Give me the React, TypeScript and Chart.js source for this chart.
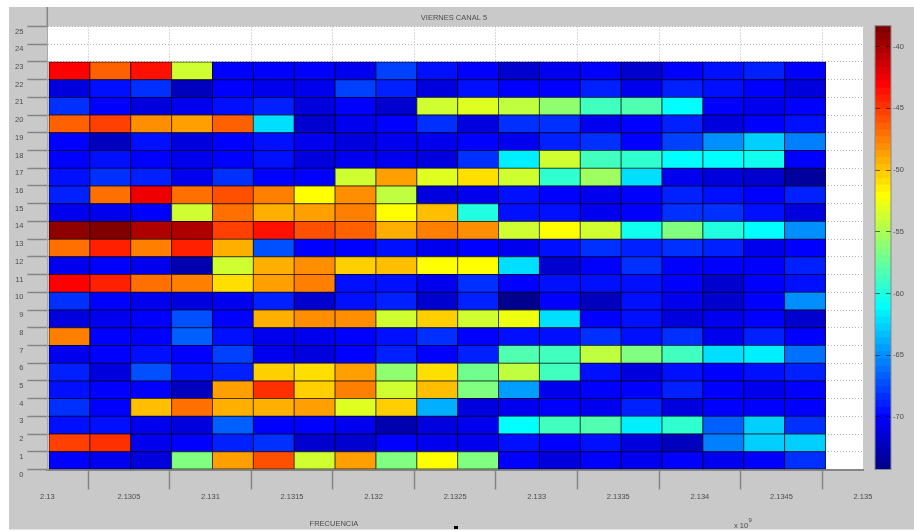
import React, { useEffect, useRef } from "react";
import { Chart, registerables } from "chart.js";

Chart.register(...registerables);

const frequencies = [2.1301357, 2.1303862, 2.1306367, 2.1308872, 2.1311377, 2.1313882, 2.1316387, 2.1318892, 2.1321397, 2.1323902, 2.1326407, 2.1328912, 2.1331417, 2.1333922, 2.1336427, 2.1338932, 2.1341437, 2.1343942, 2.1346447];

const row23 = [-42.8, -46.2, -43.9, -54, -70, -70, -69.8, -70.5, -68, -69.3, -69.8, -71.7, -70.5, -69.8, -71.7, -69.8, -69.3, -68.8, -69.8];
const row22 = [-71.3, -69.3, -68.5, -72.4, -69.8, -70.7, -70.8, -68, -68.8, -71.3, -69.3, -70, -70, -68.8, -70.8, -68.8, -69.5, -70, -71.3];
const row21 = [-68.5, -69.8, -71.3, -70.5, -69.3, -68.8, -71, -70.3, -71.5, -53.5, -53, -54.5, -55.8, -58.8, -58.3, -61.3, -70, -70.7, -70];
const row20 = [-46.2, -45.2, -48.3, -48.8, -46.2, -62.3, -72, -70.7, -69.8, -68.5, -71.1, -68.5, -68.5, -70.5, -69.8, -68.8, -71, -70, -69.3];
const row19 = [-69.8, -72.2, -69.3, -71.3, -69.8, -69.3, -70.7, -71, -70.7, -70.7, -69.8, -70.5, -68.8, -68.5, -69.8, -68, -64.8, -63, -65.3];
const row18 = [-69.8, -69.3, -70.3, -70.8, -69.8, -69.3, -71, -70.8, -70.8, -71.3, -68.5, -61.8, -53.5, -58.8, -59.3, -61.3, -61.3, -60.3, -70];
const row17 = [-69.3, -68.5, -68.8, -70.5, -68.5, -70, -69.8, -53.5, -48.8, -53, -50.8, -54, -59.3, -55.2, -62.3, -70.8, -71.3, -71.9, -73.4];
const row16 = [-68.8, -46.8, -42.3, -46.8, -45.7, -47.3, -51.8, -48.3, -54.5, -71.1, -70.5, -69.3, -70.3, -70.7, -69.8, -68.8, -69.3, -69.8, -68.8];
const row15 = [-70.8, -70.5, -69.8, -54, -47, -49.3, -48.8, -47.8, -52.3, -49.6, -59.8, -69.3, -69.3, -70.8, -69.8, -68.5, -68.5, -69.3, -71];
const row14 = [-39, -38.4, -40.4, -40.4, -45.2, -43.9, -45.7, -46.2, -49.3, -47.3, -48.3, -54, -52.3, -53.5, -60.3, -56.3, -59.8, -61.3, -64.8];
const row13 = [-46.8, -44.2, -47.3, -44.2, -49, -67.5, -69.8, -70.3, -69.3, -70.8, -70.3, -70.8, -69.3, -68.5, -68.8, -68.5, -68.8, -70.5, -69.8];
const row12 = [-70.5, -70.3, -70.8, -73, -53.5, -49.3, -48.3, -50.2, -49.6, -52.3, -52.3, -62.3, -72, -70, -68.5, -70.3, -70, -70.3, -68.8];
const row11 = [-43.3, -44.2, -46.8, -47.3, -51, -48.6, -47.8, -69.3, -69.3, -70.5, -68.5, -70, -69.3, -69.3, -69.3, -69.8, -71.5, -70, -69.3];
const row10 = [-68.5, -69.8, -70.8, -71, -70.8, -68.8, -72, -69.3, -68.8, -72, -68.8, -74.2, -69.8, -72.4, -69.3, -70.5, -71.5, -70, -64.8];
const row9 = [-71.3, -70.5, -69.8, -67.5, -69.8, -49, -48.3, -48.3, -54, -50.2, -53.8, -52.6, -62, -70, -69.3, -71, -70.5, -70.3, -71.7];
const row8 = [-47.3, -70, -69.8, -66.5, -69.3, -70.5, -70.5, -70, -69.3, -68.5, -70, -69.3, -69.3, -68.5, -69.3, -68.5, -70.5, -68.8, -70];
const row7 = [-70.5, -70, -69.3, -69.8, -68, -70.7, -71, -70.3, -68.8, -69.8, -68.8, -58.3, -58.8, -54.5, -56.8, -58.8, -62.3, -61.8, -66];
const row6 = [-68.8, -71.3, -67.5, -69.3, -68.8, -50.2, -51.2, -48.8, -55.8, -50.9, -57.3, -54.5, -58.8, -69.3, -71.1, -69.3, -70, -69.3, -68.8];
const row5 = [-69.3, -70, -69.8, -72.4, -48.6, -44.5, -50.2, -47.3, -54, -49.6, -56.3, -64.3, -70.8, -70, -70, -68.8, -70, -70.5, -69.8];
const row4 = [-68.5, -69.8, -49.6, -46.8, -49, -49, -48.6, -53, -50.2, -63.7, -71.3, -70.8, -70, -70.8, -68.8, -71, -70.3, -70, -70];
const row3 = [-69.3, -69.3, -70.8, -71.3, -66.8, -70, -69.8, -70.7, -73, -71.1, -70.8, -60.8, -58.8, -58.3, -61.8, -59.3, -66.5, -63, -68.5];
const row2 = [-45.2, -44.5, -70.8, -69.8, -68.8, -68.5, -71.7, -71.7, -70.3, -70.8, -70.5, -69.3, -69.8, -69.3, -71.1, -72.2, -65.3, -63, -63];
const row1 = [-70.3, -70.7, -71.1, -56.3, -48.6, -45.7, -54, -48.6, -56.3, -51.8, -56.3, -69.8, -71.1, -70, -70.8, -70.3, -70.7, -69.8, -68.5];

const rows = [row1, row2, row3, row4, row5, row6, row7, row8, row9, row10, row11, row12, row13, row14, row15, row16, row17, row18, row19, row20, row21, row22, row23];

const colorMin = -74.26;
const colorMax = -38.3;
const colorLevels = 64;
const colorTicks = [-70, -65, -60, -55, -50, -45, -40];

const titleText = "VIERNES CANAL 5";
const xAxisLabel = "FRECUENCIA";
const exponentText = "x 10";
const exponentPower = "9";
const tickFont = { family: "'Liberation Sans'", size: 7.5 };
const textColor = "#4c4c4c";
const axisGrey = "#858585";
const figureGrey = "#c9c9c9";

const clamp = (v: number) => Math.max(0, Math.min(1, v));
const jetLevel = (i: number): number[] => {
  const t = (i + 1) / colorLevels;
  return [
    clamp(Math.min(4 * t - 1.5, -4 * t + 4.5)),
    clamp(Math.min(4 * t - 0.5, -4 * t + 3.5)),
    clamp(Math.min(4 * t + 0.5, -4 * t + 2.5)),
  ].map((c) => Math.round(c * 255));
};
const levelOf = (v: number) =>
  Math.max(0, Math.min(colorLevels - 1, Math.floor(((v - colorMin) / (colorMax - colorMin)) * colorLevels)));
const fill = (v: number) => `rgb(${jetLevel(levelOf(v)).join(",")})`;
const edge = (v: number) => `rgb(${jetLevel(levelOf(v)).map((c) => Math.round(c * 0.3)).join(",")})`;

const heatDatasets = rows.map((values, r) => ({
  label: `Fila ${r + 1}`,
  data: values.map((_, c) => ({ x: frequencies[c], y: [r, r + 1] })),
  backgroundColor: values.map(fill),
  borderColor: values.map(edge),
  borderWidth: 1,
  borderSkipped: false,
  inflateAmount: 0.5,
  grouped: false,
  barPercentage: 1,
  categoryPercentage: 1,
}));

const figurePlugin = {
  id: "figure",
  beforeDraw(chart: any) {
    const { ctx, chartArea: a } = chart;
    ctx.save();
    ctx.fillStyle = figureGrey;
    ctx.fillRect(9, 7, 905, 522.5);
    ctx.fillStyle = "#ffffff";
    ctx.fillRect(a.left, a.top, a.right - a.left, a.bottom - a.top);
    ctx.restore();
  },
  afterDraw(chart: any) {
    const { ctx, chartArea: a } = chart;
    ctx.save();
    ctx.strokeStyle = axisGrey;
    ctx.lineWidth = 1.5;
    ctx.beginPath();
    ctx.moveTo(a.left, 7);
    ctx.lineTo(a.left, a.top);
    ctx.stroke();
    ctx.fillStyle = textColor;
    ctx.font = "7.5px 'Liberation Sans'";
    ctx.textBaseline = "middle";
    ctx.textAlign = "center";
    ctx.fillText(titleText, 454, 18);
    ctx.fillText(xAxisLabel, 334, 524);
    ctx.textAlign = "left";
    ctx.fillText(exponentText, 734, 526);
    ctx.font = "6px 'Liberation Sans'";
    ctx.fillText(exponentPower, 748.5, 520);
    ctx.fillStyle = "#000000";
    ctx.fillRect(454, 526, 4, 3);
    ctx.restore();
  },
};

const barFramePlugin = {
  id: "barFrame",
  afterDraw(chart: any) {
    const { ctx, chartArea: a } = chart;
    ctx.save();
    ctx.strokeStyle = "#8a8a8a";
    ctx.lineWidth = 1;
    ctx.strokeRect(a.left, a.top, a.right - a.left, a.bottom - a.top);
    ctx.restore();
  },
};

export default function App() {
  const mainRef = useRef<HTMLCanvasElement>(null);
  const barRef = useRef<HTMLCanvasElement>(null);

  useEffect(() => {
    const main = new Chart(mainRef.current!, {
      type: "bar",
      data: { datasets: heatDatasets as any },
      plugins: [figurePlugin],
      options: {
        animation: false,
        responsive: false,
        layout: { padding: { left: 0, right: 51, top: 26.5, bottom: 0 } },
        plugins: { legend: { display: false }, title: { display: false }, tooltip: { enabled: false } },
        scales: {
          x: {
            type: "linear",
            position: "bottom",
            offset: false,
            min: 2.13,
            max: 2.135,
            afterFit: (s: any) => { s.height = 61.5; },
            afterBuildTicks: (s: any) => {
              s.ticks = Array.from({ length: 11 }, (_, i) => ({ value: 2.13 + i * 0.0005 }));
            },
            ticks: {
              autoSkip: false,
              maxRotation: 0,
              padding: 3,
              color: textColor,
              font: tickFont,
              callback: (v: any) => String(Number(Number(v).toFixed(4))),
            },
            grid: { color: "#b4b4b4", lineWidth: 1, tickColor: axisGrey, tickLength: 20, tickWidth: 1.5, tickBorderDash: [] },
            border: { display: true, color: axisGrey, width: 2, dash: [1, 2] },
          },
          y: {
            type: "linear",
            position: "left",
            min: 0,
            max: 25,
            afterFit: (s: any) => { s.width = 47.3; },
            ticks: { stepSize: 1, autoSkip: false, padding: 4, labelOffset: 5, color: textColor, font: tickFont },
            grid: { color: "#b4b4b4", lineWidth: 1, tickColor: axisGrey, tickLength: 20, tickWidth: 1.5 },
            border: { display: true, color: "#a8a8a8", width: 1, dash: [1, 2] },
          },
        },
      } as any,
    });

    const levelDatasets = Array.from({ length: colorLevels }, (_, i) => ({
      label: `Nivel ${i}`,
      data: [[
        colorMin + (i / colorLevels) * (colorMax - colorMin),
        colorMin + ((i + 1) / colorLevels) * (colorMax - colorMin),
      ]],
      backgroundColor: `rgb(${jetLevel(i).join(",")})`,
      borderWidth: 0,
      grouped: false,
      barPercentage: 1,
      categoryPercentage: 1,
    }));

    const bar = new Chart(barRef.current!, {
      type: "bar",
      data: { labels: ["dB"], datasets: levelDatasets as any },
      plugins: [barFramePlugin],
      options: {
        animation: false,
        responsive: false,
        layout: { padding: { left: 9, right: 0, top: 25.7, bottom: 61.5 } },
        plugins: { legend: { display: false }, title: { display: false }, tooltip: { enabled: false } },
        scales: {
          x: {
            display: false,
            afterFit: (s: any) => { s.height = 0; },
          },
          y: {
            type: "linear",
            position: "right",
            min: colorMin,
            max: colorMax,
            afterFit: (s: any) => { s.width = 23; },
            afterBuildTicks: (s: any) => { s.ticks = colorTicks.map((value) => ({ value })); },
            ticks: { autoSkip: false, padding: 2, color: textColor, font: tickFont },
            grid: { z: 1, drawTicks: false, color: "rgba(0,0,0,0.55)", lineWidth: 1 },
            border: { display: false, dash: [5, 6] },
          },
        },
      } as any,
    });

    return () => {
      main.destroy();
      bar.destroy();
    };
  }, []);

  const blur = "blur(0.45px)";
  return (
    <div style={{ position: "absolute", left: 0, top: 0, width: 914, height: 531, overflow: "hidden" }}>
      <canvas ref={mainRef} width={914} height={531} style={{ position: "absolute", left: 0, top: 0, width: 914, height: 531, filter: blur }} />
      <canvas ref={barRef} width={48} height={531} style={{ position: "absolute", left: 866, top: 0, width: 48, height: 531, filter: blur }} />
    </div>
  );
}
